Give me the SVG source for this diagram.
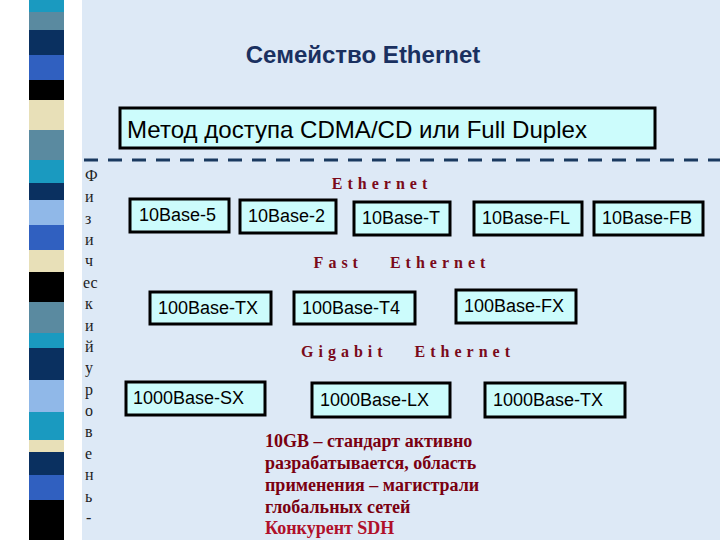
<svg xmlns="http://www.w3.org/2000/svg" width="720" height="540" viewBox="0 0 720 540">
<style>
.box{fill:#ccfcfc;stroke:#000;stroke-width:3}
.bt{font-family:"Liberation Sans",Arial,sans-serif;font-size:18px;fill:#000}
.sec{font-family:"Liberation Serif","Times New Roman",serif;font-size:16px;font-weight:bold;fill:#7a0a1a;letter-spacing:5px}
.vl{font-family:"Liberation Serif","Times New Roman",serif;font-size:16px;fill:#222}
.note{font-family:"Liberation Serif","Times New Roman",serif;font-size:18px;font-weight:bold;fill:#7a0010}
</style>
<rect width="720" height="540" fill="#ffffff"/>
<rect x="82" width="638" height="540" fill="#dde9f6"/>
<g id="stripes">
<rect x="29" y="0" width="35" height="12" fill="#1a9ac0"/>
<rect x="29" y="12" width="35" height="18" fill="#5a8aa0"/>
<rect x="29" y="30" width="35" height="25" fill="#0a3060"/>
<rect x="29" y="55" width="35" height="25" fill="#3060c0"/>
<rect x="29" y="80" width="35" height="20" fill="#000"/>
<rect x="29" y="100" width="35" height="30" fill="#e8e0b8"/>
<rect x="29" y="130" width="35" height="30" fill="#5a8aa0"/>
<rect x="29" y="160" width="35" height="23" fill="#1a9ac0"/>
<rect x="29" y="183" width="35" height="17" fill="#0a3060"/>
<rect x="29" y="200" width="35" height="25" fill="#90b8e8"/>
<rect x="29" y="225" width="35" height="25" fill="#3060c0"/>
<rect x="29" y="250" width="35" height="22" fill="#e8e0b8"/>
<rect x="29" y="272" width="35" height="30" fill="#000"/>
<rect x="29" y="302" width="35" height="31" fill="#5a8aa0"/>
<rect x="29" y="333" width="35" height="15" fill="#1a9ac0"/>
<rect x="29" y="348" width="35" height="32" fill="#0a3060"/>
<rect x="29" y="380" width="35" height="32" fill="#90b8e8"/>
<rect x="29" y="412" width="35" height="28" fill="#1a9ac0"/>
<rect x="29" y="440" width="35" height="12" fill="#e8e0b8"/>
<rect x="29" y="452" width="35" height="23" fill="#0a3060"/>
<rect x="29" y="475" width="35" height="25" fill="#3060c0"/>
<rect x="29" y="500" width="35" height="40" fill="#000"/>
</g>
<text x="363" y="63" text-anchor="middle" font-family="Liberation Sans,Arial,sans-serif" font-size="24" font-weight="bold" fill="#1a3060">Семейство Ethernet</text>
<g id="method"><rect x="120" y="108" width="535" height="40" class="box"/>
<text x="127" y="138" font-family="Liberation Sans,Arial,sans-serif" font-size="24" textLength="460" lengthAdjust="spacingAndGlyphs">Метод доступа CDMA/CD или Full Duplex</text></g>
<line x1="84" y1="160" x2="720" y2="160" stroke="#1a3a60" stroke-width="3" stroke-dasharray="14,10"/>
<g id="vertical" class="vl">
<text x="85" y="181">Ф</text><text x="85" y="202">и</text><text x="85" y="224">з</text><text x="85" y="245">и</text><text x="85" y="266">ч</text><text x="83" y="288">ес</text><text x="85" y="309">к</text><text x="85" y="331">и</text><text x="85" y="352">й</text><text x="85" y="373">у</text><text x="85" y="395">р</text><text x="85" y="416">о</text><text x="85" y="437">в</text><text x="85" y="459">е</text><text x="85" y="480">н</text><text x="85" y="502">ь</text><text x="86" y="523">-</text>
</g>
<text x="382" y="189" text-anchor="middle" class="sec">Ethernet</text>
<text x="402" y="268" text-anchor="middle" class="sec" xml:space="preserve">Fast   Ethernet</text>
<text x="408" y="357" text-anchor="middle" class="sec" xml:space="preserve">Gigabit   Ethernet</text>
<g id="n1"><rect x="130" y="199" width="99" height="33" class="box"/><text x="139" y="221" class="bt">10Base-5</text></g>
<g id="n2"><rect x="240" y="200" width="96" height="33" class="box"/><text x="248" y="222" class="bt">10Base-2</text></g>
<g id="n3"><rect x="354" y="202" width="96" height="33" class="box"/><text x="362" y="224" class="bt">10Base-T</text></g>
<g id="n4"><rect x="474" y="202" width="108" height="33" class="box"/><text x="482" y="224" class="bt">10Base-FL</text></g>
<g id="n5"><rect x="594" y="202" width="109" height="33" class="box"/><text x="602" y="224" class="bt">10Base-FB</text></g>
<g id="n6"><rect x="150" y="292" width="121" height="32" class="box"/><text x="158" y="314" class="bt">100Base-TX</text></g>
<g id="n7"><rect x="294" y="292" width="121" height="32" class="box"/><text x="302" y="314" class="bt">100Base-T4</text></g>
<g id="n8"><rect x="456" y="290" width="120" height="33" class="box"/><text x="464" y="312" class="bt">100Base-FX</text></g>
<g id="n9"><rect x="126" y="382" width="139" height="33" class="box"/><text x="133" y="404" class="bt">1000Base-SX</text></g>
<g id="n10"><rect x="312" y="383" width="138" height="34" class="box"/><text x="320" y="406" class="bt">1000Base-LX</text></g>
<g id="n11"><rect x="485" y="383" width="140" height="34" class="box"/><text x="493" y="406" class="bt">1000Base-TX</text></g>
<g id="note" class="note">
<text x="265" y="447">10GB – стандарт активно</text>
<text x="265" y="469">разрабатывается, область</text>
<text x="265" y="491">применения – магистрали</text>
<text x="265" y="513">глобальных сетей</text>
<text x="265" y="534" fill="#b0102a">Конкурент SDH</text>
</g>
</svg>
